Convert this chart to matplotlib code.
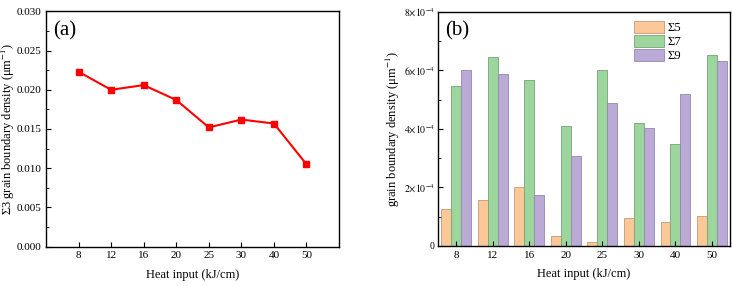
import matplotlib
matplotlib.use("Agg")
import matplotlib.pyplot as plt
import numpy as np
from matplotlib.ticker import MultipleLocator, FuncFormatter

plt.rcParams['font.family'] = ['Liberation Serif', 'DejaVu Serif']
plt.rcParams['mathtext.fontset'] = 'stix'

heat_inputs = ['8', '12', '16', '20', '25', '30', '40', '50']
sigma3 = [0.0223, 0.0200, 0.0206, 0.0187, 0.0152, 0.0162, 0.0157, 0.0105]
sigma5 = [1.26e-4, 1.57e-4, 2.00e-4, 0.34e-4, 0.13e-4, 0.94e-4, 0.83e-4, 1.02e-4]
sigma7 = [5.48e-4, 6.47e-4, 5.69e-4, 4.10e-4, 6.03e-4, 4.22e-4, 3.48e-4, 6.54e-4]
sigma9 = [6.00e-4, 5.88e-4, 1.74e-4, 3.07e-4, 4.90e-4, 4.02e-4, 5.19e-4, 6.31e-4]
series_labels = ['Σ5', 'Σ7', 'Σ9']

fig = plt.figure(figsize=(7.33, 2.86), dpi=100)
ax1 = fig.add_axes([0.0628, 0.138, 0.3997, 0.822])
ax2 = fig.add_axes([0.5975, 0.14, 0.3985, 0.818])

tick_fs = 8
label_fs = 9

# (a)
x = np.arange(len(heat_inputs))
ax1.plot(x, sigma3, color='#ff0000', lw=1.5, marker='s', ms=4.5)
ax1.set_xlim(-1, 8)
ax1.set_ylim(0, 0.030)
ax1.set_xticks(x)
ax1.set_xticklabels(heat_inputs)
ax1.yaxis.set_major_locator(MultipleLocator(0.005))
ax1.yaxis.set_minor_locator(MultipleLocator(0.0025))
ax1.yaxis.set_major_formatter(FuncFormatter(lambda v, p: f"{v:.3f}"))
ax1.set_xlabel('Heat input (kJ/cm)', fontsize=label_fs, labelpad=6)
ax1.set_ylabel('Σ3 grain boundary density (μm$^{-1}$)', fontsize=9)
ax1.yaxis.set_label_coords(-0.098, 0.5)
ax1.text(0.025, 0.96, '(a)', transform=ax1.transAxes, fontsize=15, va='top', ha='left')

# (b)
w = 0.27
colors = ['#fdc898', '#9dd69c', '#bba9d6']
edges = ['#c29a7c', '#7aa27a', '#9588ad']
for i, (vals, c, e, lab) in enumerate(zip([sigma5, sigma7, sigma9], colors, edges, series_labels)):
    ax2.bar(x + (i - 1) * w, vals, width=w, color=c, edgecolor=e, lw=0.6, label=lab)
ax2.set_xlim(-0.5, 7.5)
ax2.set_ylim(0, 8e-4)
ax2.set_xticks(x)
ax2.set_xticklabels(heat_inputs)
ax2.yaxis.set_major_locator(MultipleLocator(2e-4))
ax2.yaxis.set_minor_locator(MultipleLocator(1e-4))

def fmt(v, p):
    n = int(round(v / 1e-4))
    if n == 0:
        return '0'
    return r'$%d{\times}10^{-4}$' % n
ax2.yaxis.set_major_formatter(FuncFormatter(fmt))
ax2.set_xlabel('Heat input (kJ/cm)', fontsize=label_fs, labelpad=6)
ax2.set_ylabel('grain boundary density (μm$^{-1}$)', fontsize=label_fs)
ax2.yaxis.set_label_coords(-0.122, 0.5)
ax2.text(0.025, 0.96, '(b)', transform=ax2.transAxes, fontsize=15, va='top', ha='left')
ax2.legend(loc='upper left', bbox_to_anchor=(0.64, 1.0), frameon=False, fontsize=label_fs,
           handlelength=2.4, handleheight=1.1, labelspacing=0.05, handletextpad=0.3,
           borderaxespad=0.3)

for ax in (ax1, ax2):
    ax.tick_params(axis='both', which='both', direction='in', labelsize=tick_fs)
    ax.tick_params(axis='both', which='major', length=3.5, width=0.8)
    ax.tick_params(axis='both', which='minor', length=2, width=0.6)
    ax.tick_params(axis='x', which='both', top=False)
    ax.tick_params(axis='y', which='both', right=False)
    for s in ax.spines.values():
        s.set_linewidth(1.0)
ax2.tick_params(axis='y', labelsize=7, pad=2.5)

fig.savefig('out.png', dpi=100)
